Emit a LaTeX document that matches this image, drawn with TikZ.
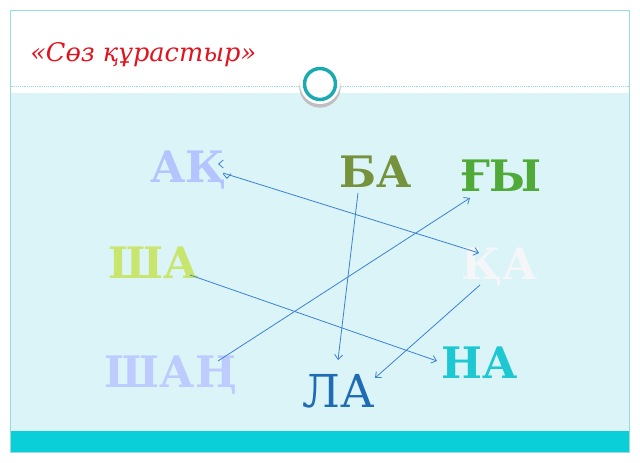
\documentclass[tikz,border=0pt]{standalone}
\usepackage{fontspec}
\setmainfont{DejaVu Serif}
\usepackage{tikz}
\usetikzlibrary{arrows.meta}
\definecolor{framecol}{HTML}{96DCE0}
\definecolor{bodycol}{HTML}{DAF4F8}
\definecolor{barcol}{HTML}{0BCFD8}
\definecolor{ringcol}{HTML}{1AAAB2}
\definecolor{titlecol}{HTML}{E0141E}
\definecolor{linkcol}{HTML}{3C82D2}
\definecolor{akcol}{HTML}{B4C4FF}
\definecolor{bacol}{HTML}{76923C}
\definecolor{gycol}{HTML}{50AA37}
\definecolor{shacol}{HTML}{C8E66E}
\definecolor{qacol}{HTML}{F4F6F8}
\definecolor{shangcol}{HTML}{BECBFF}
\definecolor{nacol}{HTML}{1EC8D2}
\definecolor{lacol}{HTML}{1F6CB5}
\tikzstyle{link} = [draw=linkcol, -{Straight Barb[length=3.5pt,width=6pt]}, line width=0.6pt]
\tikzstyle{syl} = [inner sep=0pt, anchor=base, font=\fontsize{32.5}{38}\selectfont\bfseries]

\begin{document}
\begin{tikzpicture}[x=0.75pt,y=-0.75pt]
	\useasboundingbox (0,0) rectangle (640,463);
	% -------------- Slide --------------
	\draw[framecol, fill=white] (10,10) rectangle (629,452);
	\fill[bodycol] (10.5,93) rectangle (628.5,431);
	\fill[barcol]  (10.5,431) rectangle (628.5,452);
	\draw[framecol, densely dotted] (10.5,86) -- (628.5,86);
	\fill[black!25] (320,87) circle (15.5pt);
	\fill[white]    (320,84) circle (15pt);
	\draw[ringcol, line width=2.6pt] (320,84) circle (11.6pt);
	% -------------- Title --------------
	\node[anchor=base west, inner sep=0pt, text=titlecol, font=\fontsize{19.2}{23}\selectfont\itshape] (title) at (30,62) {«Сөз құрастыр»};
	% -------------- Syllables --------------
	\node[syl, text=akcol]    (ak)    at (188.5,183) {АҚ};
	\node[syl, text=bacol]    (ba)    at (376,188)   {БА};
	\node[syl, text=gycol]    (gy)    at (501,192)   {ҒЫ};
	\node[syl, text=shacol]   (sha)   at (154,279)   {ША};
	\node[syl, text=qacol]    (qa)    at (500,280)   {ҚА};
	\node[syl, text=shangcol] (shang) at (171,388)   {ШАҢ};
	\node[syl, text=nacol]    (na)    at (480,379)   {НА};
	\node[syl, text=lacol, font=\fontsize{34}{40}\selectfont] (la) at (338.5,408) {ЛА};
	% -------------- Links --------------
	\draw[link] ([shift={(34.5,-10)}]ak.base)  -- ([shift={(-21,-27)}]qa.base);
	\draw[link] ([shift={(-18,5)}]ba.base)     -- ([shift={(-0.5,-48)}]la.base);
	\draw[link] ([shift={(47,-27)}]shang.base) -- ([shift={(-31,6)}]gy.base);
	\draw[link] ([shift={(36,-4)}]sha.base)    -- ([shift={(-43,-18)}]na.base);
	\draw[link] ([shift={(-20,5)}]qa.base)     -- ([shift={(36.5,-30)}]la.base);
	\draw[link] ([shift={(31,-19)}]ak.base)    -- ([shift={(29.5,-19)}]ak.base);
	\draw[link] ([shift={(38.5,-6)}]ak.base)   -- ([shift={(38.5,-4)}]ak.base);
\end{tikzpicture}
\end{document}
